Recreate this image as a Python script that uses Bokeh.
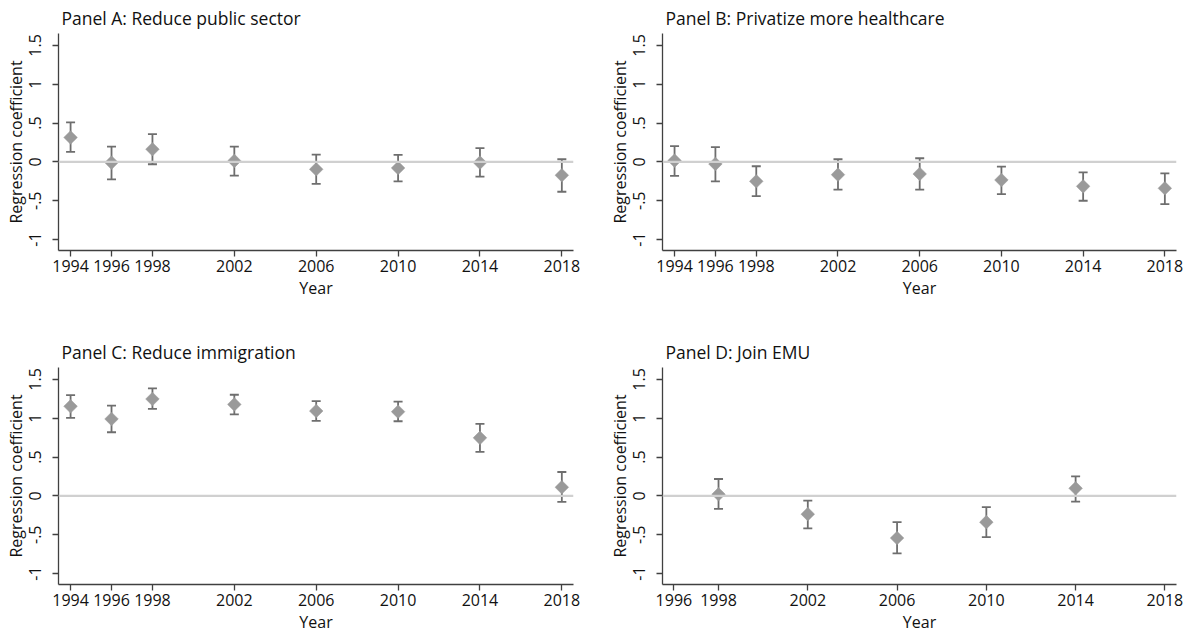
import math
from bokeh.plotting import figure
from bokeh.layouts import column, row
from bokeh.models import Range1d, FixedTicker, Span
from bokeh.embed import file_html
from bokeh.resources import INLINE

# ---------------- data ----------------
years_abc = [1994, 1996, 1998, 2002, 2006, 2010, 2014, 2018]
years_d = [1998, 2002, 2006, 2010, 2014]
xticks_abc = [1994, 1996, 1998, 2002, 2006, 2010, 2014, 2018]
xticks_d = [1996, 1998, 2002, 2006, 2010, 2014, 2018]
yticks = [-1, -0.5, 0, 0.5, 1, 1.5]
ytick_labels = ["-1", "-.5", "0", ".5", "1", "1.5"]

a_coef = [0.315, -0.009, 0.164, 0.013, -0.095, -0.078, -0.009, -0.172]
a_hi = [0.509, 0.198, 0.358, 0.198, 0.095, 0.091, 0.177, 0.034]
a_lo = [0.129, -0.224, -0.030, -0.177, -0.284, -0.250, -0.190, -0.384]

b_coef = [0.017, -0.026, -0.250, -0.164, -0.155, -0.233, -0.315, -0.340]
b_hi = [0.203, 0.190, -0.056, 0.034, 0.047, -0.060, -0.134, -0.147]
b_lo = [-0.181, -0.250, -0.440, -0.358, -0.358, -0.414, -0.500, -0.543]

c_coef = [1.154, 0.991, 1.248, 1.179, 1.094, 1.085, 0.748, 0.111]
c_hi = [1.299, 1.162, 1.385, 1.303, 1.222, 1.214, 0.927, 0.308]
c_lo = [1.004, 0.820, 1.120, 1.051, 0.966, 0.962, 0.568, -0.077]

d_coef = [0.021, -0.235, -0.543, -0.338, 0.098]
d_hi = [0.218, -0.060, -0.338, -0.145, 0.252]
d_lo = [-0.167, -0.419, -0.739, -0.530, -0.073]

titles = ["Panel A: Reduce public sector", "Panel B: Privatize more healthcare",
          "Panel C: Reduce immigration", "Panel D: Join EMU"]

FONT = "Open Sans"
AXIS_COL = "#404040"
BAR_COL = "#6e6e6e"
DOT_COL = "#9a9a9a"
ZERO_COL = "#d0d0d0"


def panel(title, years, coef, lo, hi, xr, xticks, fw, ml, mr, mt, mb):
    p = figure(frame_width=fw, frame_height=217, output_backend="svg",
               toolbar_location=None, x_range=Range1d(*xr),
               y_range=Range1d(-1.141, 1.654),
               min_border_left=ml, min_border_right=mr,
               min_border_top=mt, min_border_bottom=mb,
               title=title)
    p.outline_line_color = None
    p.xgrid.visible = False
    p.ygrid.visible = False
    p.background_fill_color = "white"
    p.border_fill_color = "white"
    p.title.text_font = FONT
    p.title.text_font_size = "17.5px"
    p.title.text_font_style = "normal"
    p.title.text_color = "#111111"
    p.title.align = "left"
    p.title.offset = 3
    p.title.standoff = 7

    p.add_layout(Span(location=0, dimension="width", line_color=ZERO_COL, line_width=2.2))

    p.segment(x0=years, y0=lo, x1=years, y1=hi, line_color=BAR_COL, line_width=1.8)
    p.scatter(x=years, y=lo, marker="dash", size=9, line_color=BAR_COL, line_width=1.8)
    p.scatter(x=years, y=hi, marker="dash", size=9, line_color=BAR_COL, line_width=1.8)
    p.scatter(x=years, y=coef, marker="square", angle=math.pi / 4, size=9.6,
              fill_color=DOT_COL, line_color=DOT_COL, line_width=0.5)

    for ax in (p.xaxis[0], p.yaxis[0]):
        ax.axis_line_color = AXIS_COL
        ax.axis_line_width = 1.3
        ax.major_tick_line_color = AXIS_COL
        ax.major_tick_line_width = 1.3
        ax.minor_tick_line_color = None
        ax.major_tick_out = 6
        ax.major_tick_in = 0
        ax.major_label_text_font = FONT
        ax.major_label_text_font_size = "16px"
        ax.major_label_text_color = "#111111"
        ax.axis_label_text_font = FONT
        ax.axis_label_text_font_size = "16px"
        ax.axis_label_text_font_style = "normal"
        ax.axis_label_text_color = "#111111"

    p.xaxis[0].major_label_standoff = 3
    p.xaxis[0].axis_label_standoff = 2
    p.yaxis[0].major_label_standoff = 11
    p.yaxis[0].axis_label_standoff = 0

    p.xaxis[0].ticker = FixedTicker(ticks=xticks)
    p.xaxis[0].axis_label = "Year"
    p.yaxis[0].ticker = FixedTicker(ticks=yticks)
    p.yaxis[0].major_label_overrides = {t: l for t, l in zip(yticks, ytick_labels)}
    p.yaxis[0].major_label_orientation = "vertical"
    p.yaxis[0].axis_label = "Regression coefficient"
    return p


xr_abc = (1993.41, 2018.57)
xr_d = (1995.49, 2018.52)

pa = panel(titles[0], years_abc, a_coef, a_lo, a_hi, xr_abc, xticks_abc, 515, 58, 31, 33, 84)
pb = panel(titles[1], years_abc, b_coef, b_lo, b_hi, xr_abc, xticks_abc, 514, 58, 12, 33, 84)
pc = panel(titles[2], years_abc, c_coef, c_lo, c_hi, xr_abc, xticks_abc, 515, 58, 31, 33, 46)
pd_ = panel(titles[3], years_d, d_coef, d_lo, d_hi, xr_d, xticks_d, 514, 58, 12, 33, 46)

layout = column(row(pa, pb), row(pc, pd_))

with open("out.html", "w") as f:
    f.write(file_html(layout, INLINE))
